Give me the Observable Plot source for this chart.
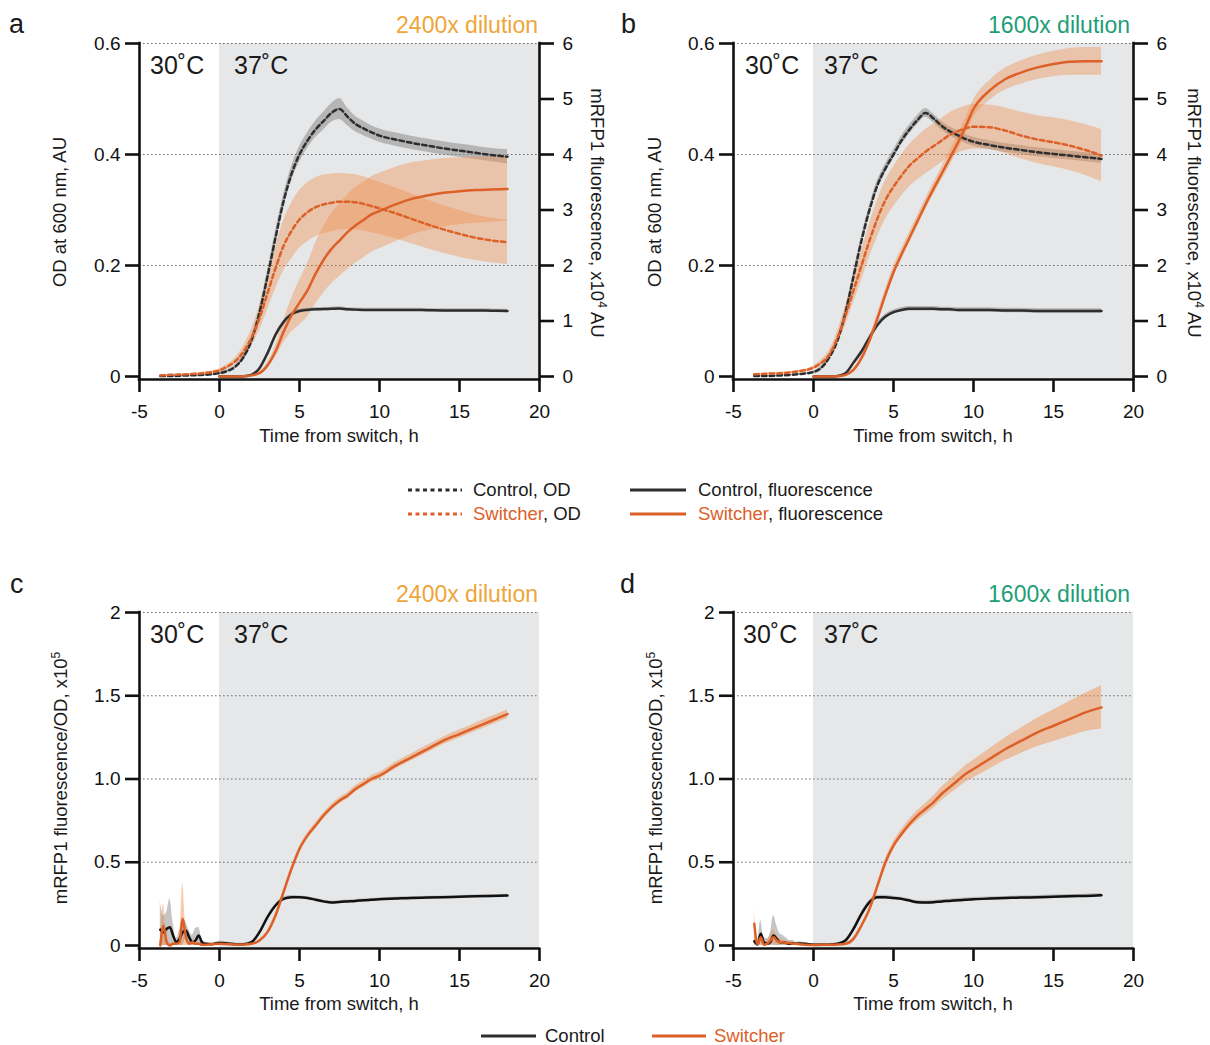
<!DOCTYPE html>
<html><head><meta charset="utf-8">
<script src="https://cdn.jsdelivr.net/npm/d3@7"></script>
<script src="https://cdn.jsdelivr.net/npm/@observablehq/plot@0.6"></script>
<style>
body{margin:0;background:#fff;}
#fig{position:relative;width:1210px;height:1045px;font-family:"Liberation Sans",Arial,Helvetica,sans-serif;color:#1a1a1a;overflow:hidden;background:#fff}
.t{position:absolute;white-space:nowrap;line-height:1}
.panel{position:absolute}
.panel svg{overflow:visible}
</style></head><body><div id="fig"></div>
<script>
// ---------- data ----------
const xTicks = [-5, 0, 5, 10, 15, 20];
const shadeRange = [0, 20];            // 37 °C period
const odTicks = [0, 0.2, 0.4, 0.6];
const odTickLabels = ["0", "0.2", "0.4", "0.6"];
const fluorTicks = [0, 1, 2, 3, 4, 5, 6];   // x10^4 AU
const ratioTicks = [0, 0.5, 1, 1.5, 2];
const ratioTickLabels = ["0", "0.5", "1.0", "1.5", "2"];
const fluorPerOD = 10;                 // right axis (x10^4 AU) per left axis unit

// time points for panels a, b (h)
const tOD = [-3.7,-3,-2,-1, 0,0.5,1,1.5,2,2.5,3,3.5,4,4.5,5,5.5,6,6.5,7,7.5,8,8.5,9,9.5,10, 11,12,13,14,15,16,17,18];

// panel a (2400x)
const a_ctrlOD   = [0.001,0.001,0.002,0.003, 0.006,0.01,0.018,0.035,0.065,0.115,0.18,0.25,0.315,0.365,0.4,0.425,0.445,0.46,0.475,0.482,0.468,0.455,0.447,0.44,0.434, 0.427,0.421,0.416,0.411,0.407,0.403,0.399,0.396];
const a_ctrlODsd = [0.001,0.001,0.001,0.001, 0.002,0.002,0.003,0.005,0.007,0.009,0.01,0.012,0.012,0.013,0.014,0.014,0.015,0.016,0.017,0.019,0.016,0.014,0.013,0.012,0.012, 0.012,0.012,0.012,0.012,0.012,0.012,0.012,0.013];
const a_swOD     = [0.002,0.003,0.004,0.006, 0.011,0.018,0.028,0.045,0.07,0.105,0.15,0.195,0.235,0.262,0.283,0.296,0.305,0.31,0.313,0.315,0.315,0.314,0.311,0.307,0.303, 0.294,0.284,0.274,0.265,0.257,0.25,0.245,0.242];
const a_swODsd   = [0.001,0.001,0.001,0.002, 0.003,0.004,0.006,0.01,0.015,0.022,0.03,0.038,0.045,0.05,0.052,0.053,0.053,0.053,0.052,0.051,0.05,0.05,0.049,0.048,0.047, 0.046,0.045,0.044,0.043,0.042,0.041,0.04,0.04];
const a_ctrlFl   = [null,null,null,null, 0,0,0,0.005,0.03,0.15,0.42,0.75,0.98,1.12,1.18,1.2,1.21,1.215,1.22,1.225,1.21,1.205,1.2,1.2,1.2, 1.2,1.2,1.195,1.19,1.19,1.19,1.185,1.18];
const a_ctrlFlsd = [null,null,null,null, 0.005,0.005,0.005,0.005,0.01,0.02,0.03,0.03,0.03,0.03,0.03,0.03,0.03,0.03,0.03,0.03,0.03,0.03,0.03,0.03,0.03, 0.03,0.03,0.03,0.03,0.03,0.03,0.03,0.03];
const a_swFl     = [null,null,null,null, 0,0,0,0.005,0.02,0.06,0.2,0.45,0.8,1.1,1.33,1.55,1.85,2.1,2.3,2.45,2.6,2.72,2.82,2.92,2.98, 3.1,3.2,3.26,3.31,3.34,3.36,3.37,3.38];
const a_swFlsd   = [null,null,null,null, 0.005,0.005,0.005,0.005,0.01,0.02,0.05,0.1,0.2,0.3,0.4,0.48,0.55,0.6,0.63,0.65,0.67,0.68,0.68,0.68,0.68, 0.67,0.65,0.63,0.62,0.6,0.6,0.59,0.58];

// panel b (1600x)
const b_ctrlOD   = [0.001,0.001,0.002,0.004, 0.008,0.016,0.035,0.065,0.115,0.18,0.245,0.3,0.345,0.375,0.4,0.425,0.445,0.462,0.475,0.465,0.452,0.442,0.435,0.428,0.423, 0.417,0.412,0.408,0.404,0.401,0.398,0.395,0.392];
const b_ctrlODsd = [0.001,0.001,0.001,0.001, 0.002,0.003,0.004,0.005,0.007,0.008,0.008,0.008,0.008,0.008,0.008,0.008,0.008,0.008,0.008,0.008,0.008,0.008,0.008,0.008,0.008, 0.008,0.008,0.008,0.008,0.008,0.008,0.008,0.008];
const b_swOD     = [0.004,0.005,0.006,0.009, 0.016,0.025,0.04,0.07,0.11,0.155,0.2,0.245,0.285,0.318,0.342,0.362,0.38,0.393,0.405,0.415,0.425,0.435,0.442,0.447,0.45, 0.449,0.443,0.434,0.427,0.422,0.416,0.408,0.398];
const b_swODsd   = [0.001,0.001,0.002,0.002, 0.003,0.005,0.008,0.012,0.018,0.022,0.027,0.03,0.033,0.035,0.036,0.037,0.038,0.039,0.04,0.04,0.04,0.04,0.04,0.04,0.04, 0.04,0.041,0.042,0.043,0.044,0.045,0.046,0.047];
const b_ctrlFl   = [null,null,null,null, 0,0,0,0.01,0.06,0.25,0.45,0.7,0.93,1.08,1.16,1.2,1.22,1.22,1.22,1.22,1.21,1.21,1.2,1.2,1.2, 1.2,1.19,1.19,1.18,1.18,1.18,1.18,1.18];
const b_ctrlFlsd = [null,null,null,null, 0.005,0.005,0.005,0.005,0.01,0.02,0.03,0.04,0.04,0.04,0.04,0.04,0.04,0.04,0.04,0.04,0.04,0.04,0.04,0.04,0.04, 0.04,0.04,0.04,0.04,0.04,0.04,0.04,0.04];
const b_swFl     = [null,null,null,null, 0,0,0,0.005,0.03,0.12,0.33,0.65,1.05,1.48,1.88,2.2,2.5,2.8,3.1,3.38,3.65,3.92,4.2,4.5,4.82, 5.15,5.36,5.48,5.57,5.63,5.67,5.68,5.68];
const b_swFlsd   = [null,null,null,null, 0.005,0.005,0.005,0.005,0.01,0.02,0.04,0.06,0.08,0.09,0.1,0.1,0.1,0.1,0.1,0.11,0.12,0.13,0.14,0.15,0.16, 0.18,0.2,0.21,0.22,0.23,0.24,0.25,0.25];

// time points for panels c, d (h)
const tR = [-3.7,-3.5,-3.3,-3.1,-2.9,-2.7,-2.5,-2.3,-2.1,-1.9,-1.7,-1.5,-1.3,-1.1,-0.9,-0.5, 0,0.5,1,1.5,2,2.5,3,3.5,4,4.5,5,5.5,6,6.5,7,7.5,8,8.5,9,9.5,10, 11,12,13,14,15,16,17,18];

// panel c (2400x), fluorescence/OD x10^5
const c_ctrl   = [0.095,0.08,0.1,0.11,0.06,0.02,0.04,0.08,0.09,0.05,0.02,0.03,0.06,0.02,0.01,0.008, 0.015,0.012,0.008,0.008,0.02,0.08,0.17,0.24,0.28,0.29,0.29,0.285,0.275,0.265,0.258,0.262,0.265,0.268,0.272,0.275,0.278, 0.282,0.286,0.288,0.29,0.293,0.296,0.298,0.3];
const c_ctrlSd = [0.17,0.1,0.1,0.17,0.08,0.02,0.05,0.08,0.05,0.04,0.04,0.07,0.05,0.02,0.01,0.005, 0.01,0.008,0.005,0.005,0.005,0.01,0.01,0.01,0.01,0.01,0.008,0.008,0.008,0.008,0.008,0.008,0.008,0.008,0.008,0.008,0.008, 0.008,0.008,0.008,0.008,0.008,0.008,0.008,0.008];
const c_sw     = [0.0,0.12,0.02,0.0,0.01,0.01,0.02,0.16,0.05,0.01,0.02,0.01,0.01,0.005,0.005,0.008, 0.01,0.008,0.006,0.006,0.01,0.03,0.08,0.18,0.32,0.46,0.58,0.66,0.72,0.78,0.83,0.87,0.9,0.94,0.97,1.0,1.02, 1.08,1.13,1.18,1.23,1.27,1.31,1.35,1.39];
const c_swSd   = [0.01,0.13,0.02,0.01,0.01,0.01,0.03,0.21,0.05,0.01,0.02,0.01,0.01,0.005,0.005,0.005, 0.005,0.005,0.005,0.005,0.005,0.008,0.01,0.012,0.015,0.015,0.015,0.015,0.015,0.016,0.017,0.018,0.018,0.019,0.02,0.02,0.02, 0.02,0.021,0.022,0.023,0.024,0.025,0.025,0.026];

// panel d (1600x)
const d_ctrl   = [0.025,0.006,0.07,0.02,0.01,0.02,0.06,0.04,0.02,0.02,0.015,0.01,0.012,0.01,0.012,0.01, 0.005,0.005,0.005,0.01,0.03,0.1,0.19,0.26,0.29,0.29,0.285,0.28,0.27,0.26,0.258,0.26,0.265,0.268,0.272,0.275,0.278, 0.282,0.285,0.288,0.29,0.293,0.296,0.298,0.302];
const d_ctrlSd = [0.02,0.02,0.08,0.03,0.03,0.05,0.12,0.08,0.05,0.04,0.03,0.02,0.02,0.01,0.01,0.005, 0.005,0.005,0.005,0.005,0.008,0.01,0.012,0.012,0.012,0.012,0.01,0.01,0.01,0.01,0.01,0.01,0.01,0.01,0.01,0.01,0.01, 0.01,0.01,0.01,0.01,0.01,0.01,0.01,0.01];
const d_sw     = [0.13,0.005,0.05,0.005,0.01,0.03,0.05,0.03,0.02,0.02,0.015,0.015,0.01,0.01,0.008,0.005, 0.003,0.004,0.005,0.006,0.01,0.04,0.12,0.22,0.36,0.5,0.6,0.67,0.73,0.78,0.82,0.86,0.91,0.95,0.99,1.03,1.06, 1.12,1.18,1.23,1.28,1.32,1.36,1.4,1.43];
const d_swSd   = [0.09,0.01,0.03,0.01,0.02,0.03,0.04,0.03,0.02,0.015,0.01,0.01,0.01,0.008,0.006,0.005, 0.005,0.005,0.005,0.005,0.006,0.008,0.01,0.012,0.015,0.02,0.022,0.025,0.028,0.03,0.033,0.036,0.04,0.043,0.046,0.05,0.053, 0.06,0.068,0.076,0.085,0.095,0.105,0.115,0.13];

// ---------- styling ----------
const C = {
  control: "#2e2e2e", controlR: "#111111", switcher: "#dc6028",
  bandGray: "#8c8c8c", bandOrange: "#f08c48", shade: "#e6e7e8", grid: "#6f6f6f",
  d2400: "#eea53a", d1600: "#1e9e78", axis: "#111111"
};
const FONT = '"Liberation Sans", Arial, Helvetica, sans-serif';
const dash = "4.5,3.2";
const LW = 2.5, AW = 2.6, TICKFONT = 19;

function rows(t, m, sd) { return t.map((x, i) => ({t: x, m: m[i], sd: sd[i]})); }
function band(data, fill, op, k = 1) {
  return Plot.areaY(data, {
    x: "t",
    y1: d => d.m == null ? NaN : Math.max(0, d.m - d.sd) / k,
    y2: d => d.m == null ? NaN : (d.m + d.sd) / k,
    fill, fillOpacity: op, curve: "monotone-x"
  });
}
function line(data, stroke, dasharray, k = 1) {
  return Plot.lineY(data, {
    x: "t", y: d => d.m == null ? NaN : d.m / k,
    stroke, strokeWidth: LW, strokeDasharray: dasharray, curve: "monotone-x"
  });
}

function frameMarks(yMin, yMax, yTicks, yLabels, rightAxis) {
  const m = [
    Plot.ruleX([xTicks[0]], {y1: yMin, y2: yMax, stroke: C.axis, strokeWidth: AW, strokeLinecap: "square"}),
    Plot.ruleY([yMin], {x1: xTicks[0], x2: xTicks[xTicks.length - 1], stroke: C.axis, strokeWidth: AW, strokeLinecap: "square"}),
    Plot.axisX({ticks: xTicks, tickSize: 13, tickPadding: 12, strokeWidth: AW, fontSize: TICKFONT,
                tickFormat: d => String(d), label: null, fill: C.axis, stroke: C.axis}),
    Plot.axisY({anchor: "left", ticks: yTicks, tickSize: 14, tickPadding: 5, strokeWidth: AW, fontSize: TICKFONT,
                tickFormat: d => yLabels[yTicks.indexOf(d)], label: null, fill: C.axis, stroke: C.axis})
  ];
  if (rightAxis) {
    m.push(Plot.ruleX([xTicks[xTicks.length - 1]], {y1: yMin, y2: yMax, stroke: C.axis, strokeWidth: AW, strokeLinecap: "square"}));
    m.push(Plot.axisY({anchor: "right", ticks: fluorTicks.map(v => v / fluorPerOD), tickSize: 14, tickPadding: 9,
                strokeWidth: AW, fontSize: TICKFONT, tickFormat: d => String(Math.round(d * fluorPerOD)), label: null,
                fill: C.axis, stroke: C.axis}));
  }
  return m;
}

const yMinOD = -0.0054, yMinR = -0.018;

function odPanel(s) {
  const cOD = rows(tOD, s.ctrlOD, s.ctrlODsd), sOD = rows(tOD, s.swOD, s.swODsd);
  const cFl = rows(tOD, s.ctrlFl, s.ctrlFlsd), sFl = rows(tOD, s.swFl, s.swFlsd);
  const top = odTicks[odTicks.length - 1];
  return Plot.plot({
    width: 605, height: 460, marginLeft: 139, marginRight: 66, marginTop: 43, marginBottom: 81,
    x: {domain: [xTicks[0], xTicks[xTicks.length - 1]]},
    y: {domain: [yMinOD, top]},
    style: {fontFamily: FONT, fontSize: TICKFONT + "px", color: C.axis, background: "transparent"},
    marks: [
      Plot.rect([{x1: shadeRange[0], x2: shadeRange[1], y1: yMinOD, y2: top}], {x1: "x1", x2: "x2", y1: "y1", y2: "y2", fill: C.shade}),
      Plot.ruleY(odTicks.slice(1), {stroke: C.grid, strokeWidth: 1, strokeDasharray: "1.6,2.4"}),
      band(cOD, C.bandGray, 0.55),
      band(sOD, C.bandOrange, 0.38),
      band(sFl, C.bandOrange, 0.38, fluorPerOD),
      band(cFl, C.bandGray, 0.55, fluorPerOD),
      line(cOD, C.control, dash),
      line(sOD, C.switcher, dash),
      line(cFl, C.control, null, fluorPerOD),
      line(sFl, C.switcher, null, fluorPerOD),
      ...frameMarks(yMinOD, top, odTicks, odTickLabels, true)
    ]
  });
}

function ratioPanel(s) {
  const c = rows(tR, s.ctrl, s.ctrlSd), w = rows(tR, s.sw, s.swSd);
  const top = ratioTicks[ratioTicks.length - 1];
  return Plot.plot({
    width: 605, height: 460, marginLeft: 139, marginRight: 66, marginTop: 43, marginBottom: 81,
    x: {domain: [xTicks[0], xTicks[xTicks.length - 1]]},
    y: {domain: [yMinR, top]},
    style: {fontFamily: FONT, fontSize: TICKFONT + "px", color: C.axis, background: "transparent"},
    marks: [
      Plot.rect([{x1: shadeRange[0], x2: shadeRange[1], y1: yMinR, y2: top}], {x1: "x1", x2: "x2", y1: "y1", y2: "y2", fill: C.shade}),
      Plot.ruleY(ratioTicks.slice(1), {stroke: C.grid, strokeWidth: 1, strokeDasharray: "1.6,2.4"}),
      band(c, C.bandGray, 0.5),
      band(w, C.bandOrange, 0.45),
      line(c, C.controlR, null),
      line(w, C.switcher, null),
      ...frameMarks(yMinR, top, ratioTicks, ratioTickLabels, false)
    ]
  });
}

// ---------- layout ----------
const fig = document.getElementById("fig");
function place(node, left, top) {
  const d = document.createElement("div");
  d.className = "panel"; d.style.left = left + "px"; d.style.top = top + "px";
  d.appendChild(node); fig.appendChild(d);
}
place(odPanel({ctrlOD: a_ctrlOD, ctrlODsd: a_ctrlODsd, swOD: a_swOD, swODsd: a_swODsd, ctrlFl: a_ctrlFl, ctrlFlsd: a_ctrlFlsd, swFl: a_swFl, swFlsd: a_swFlsd}), 0, 0);
place(odPanel({ctrlOD: b_ctrlOD, ctrlODsd: b_ctrlODsd, swOD: b_swOD, swODsd: b_swODsd, ctrlFl: b_ctrlFl, ctrlFlsd: b_ctrlFlsd, swFl: b_swFl, swFlsd: b_swFlsd}), 594, 0);
place(ratioPanel({ctrl: c_ctrl, ctrlSd: c_ctrlSd, sw: c_sw, swSd: c_swSd}), 0, 569);
place(ratioPanel({ctrl: d_ctrl, ctrlSd: d_ctrlSd, sw: d_sw, swSd: d_swSd}), 594, 569);

// text helper: align = "left" | "center" | "right"; (x, y) = anchor point, y is vertical centre
function text(html, x, y, size, {align = "left", color = null, rotate = 0} = {}) {
  const d = document.createElement("div");
  d.className = "t";
  d.innerHTML = html;
  d.style.fontSize = size + "px";
  if (color) d.style.color = color;
  d.style.left = x + "px"; d.style.top = y + "px";
  const tx = align === "left" ? "0" : align === "right" ? "-100%" : "-50%";
  d.style.transform = rotate ? `translate(-50%,-50%) rotate(${rotate}deg)` : `translate(${tx},-50%)`;
  fig.appendChild(d);
}

const letters = [["a", 9, 24], ["b", 621, 24], ["c", 10, 584], ["d", 620, 584]];
letters.forEach(([l, x, y]) => text(l, x, y, 27));

text("2400x dilution", 538, 25, 23, {align: "right", color: C.d2400});
text("1600x dilution", 1130, 25, 23, {align: "right", color: C.d1600});
text("2400x dilution", 538, 594, 23, {align: "right", color: C.d2400});
text("1600x dilution", 1130, 594, 23, {align: "right", color: C.d1600});

const temps = [[150, 234, 65], [745, 824, 65], [150, 234, 634], [743, 824, 634]];
temps.forEach(([x1, x2, y]) => { text("30˚C", x1, y, 25); text("37˚C", x2, y, 25); });

const sup = n => `<sup style='font-size:12px;vertical-align:7px'>${n}</sup>`;
text("OD at 600 nm, AU", 60, 212, 18.5, {rotate: -90});
text("OD at 600 nm, AU", 655, 212, 18.5, {rotate: -90});
text(`mRFP1 fluorescence, x10${sup(4)} AU`, 598, 213, 18.5, {rotate: 90});
text(`mRFP1 fluorescence, x10${sup(4)} AU`, 1195, 213, 18.5, {rotate: 90});
text(`mRFP1 fluorescence/OD, x10${sup(5)}`, 60, 778, 18.5, {rotate: -90});
text(`mRFP1 fluorescence/OD, x10${sup(5)}`, 655, 778, 18.5, {rotate: -90});

text("Time from switch, h", 339, 436, 18.5, {align: "center"});
text("Time from switch, h", 933, 436, 18.5, {align: "center"});
text("Time from switch, h", 339, 1004, 18.5, {align: "center"});
text("Time from switch, h", 933, 1004, 18.5, {align: "center"});

// legends
function sample(x1, x2, y, color, dasharray) {
  const ns = "http://www.w3.org/2000/svg";
  const s = document.createElementNS(ns, "svg");
  s.setAttribute("width", x2 - x1); s.setAttribute("height", 6);
  s.style.position = "absolute"; s.style.left = x1 + "px"; s.style.top = (y - 3) + "px";
  const l = document.createElementNS(ns, "line");
  l.setAttribute("x1", 0); l.setAttribute("x2", x2 - x1); l.setAttribute("y1", 3); l.setAttribute("y2", 3);
  l.setAttribute("stroke", color); l.setAttribute("stroke-width", dasharray ? 3 : 3.2);
  if (dasharray) l.setAttribute("stroke-dasharray", dasharray);
  s.appendChild(l); fig.appendChild(s);
}
const sw = t => `<span style="color:${C.switcher}">${t}</span>`;
sample(408, 462, 490, C.control, "4,3.5");
text("Control, OD", 473, 490, 18.5);
sample(408, 462, 514, C.switcher, "4,3.5");
text(sw("Switcher") + ", OD", 473, 514, 18.5);
sample(630, 686, 490, C.control, null);
text("Control, fluorescence", 698, 490, 18.5);
sample(630, 686, 514, C.switcher, null);
text(sw("Switcher") + ", fluorescence", 698, 514, 18.5);

sample(481, 536, 1036, C.control, null);
text("Control", 545, 1036, 18.5);
sample(652, 706, 1036, C.switcher, null);
text(sw("Switcher"), 714, 1036, 18.5);
</script></body></html>
